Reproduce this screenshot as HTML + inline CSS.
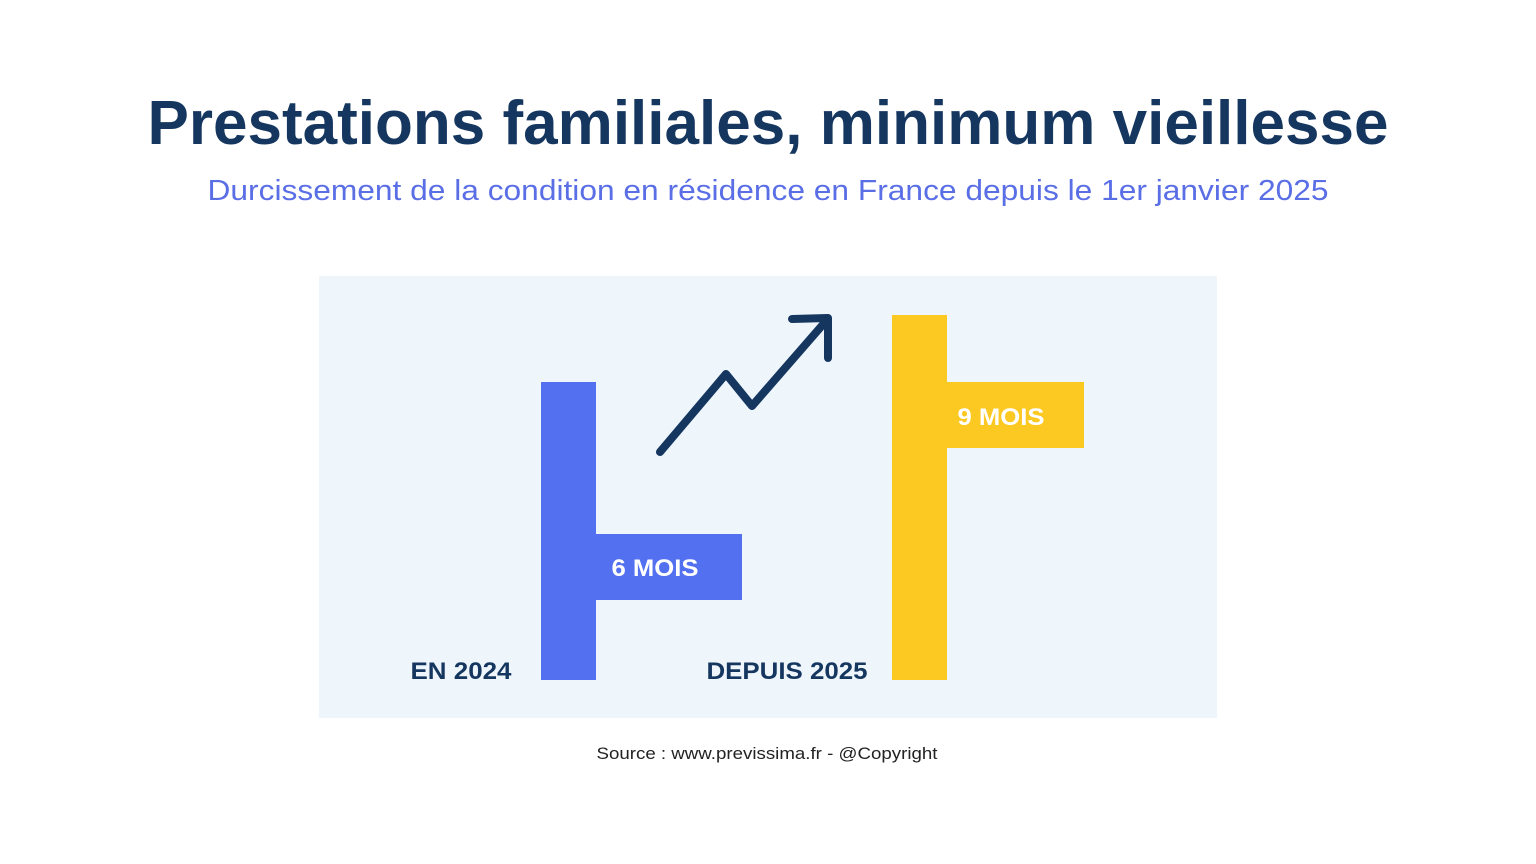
<!DOCTYPE html>
<html><head><meta charset="utf-8"><style>
html,body{margin:0;padding:0;background:#fff;}
svg{display:block;}
</style></head><body>
<svg width="1536" height="864" viewBox="0 0 1536 864" xmlns="http://www.w3.org/2000/svg">
<rect width="1536" height="864" fill="#ffffff"/>
<text x="768" y="144" text-anchor="middle" font-family="Liberation Sans, sans-serif" font-weight="bold" font-size="62" fill="#15365f" textLength="1241" lengthAdjust="spacingAndGlyphs">Prestations familiales, minimum vieillesse</text>
<text x="768" y="200" text-anchor="middle" font-family="Liberation Sans, sans-serif" font-size="29" fill="#5a6ee6" textLength="1121" lengthAdjust="spacingAndGlyphs">Durcissement de la condition en résidence en France depuis le 1er janvier 2025</text>
<rect x="319" y="276" width="898" height="442" fill="#eef6fc"/>
<rect x="541" y="382" width="55" height="298" fill="#5270f0"/>
<rect x="596" y="534" width="146" height="66" fill="#5270f0"/>
<rect x="892" y="315" width="55" height="365" fill="#fcc822"/>
<rect x="947" y="382" width="137" height="66" fill="#fcc822"/>
<text x="655" y="576" text-anchor="middle" font-family="Liberation Sans, sans-serif" font-weight="bold" font-size="24" fill="#ffffff" textLength="87" lengthAdjust="spacingAndGlyphs">6 MOIS</text>
<text x="1001" y="425" text-anchor="middle" font-family="Liberation Sans, sans-serif" font-weight="bold" font-size="24" fill="#ffffff" textLength="87" lengthAdjust="spacingAndGlyphs">9 MOIS</text>
<text x="461" y="679" text-anchor="middle" font-family="Liberation Sans, sans-serif" font-weight="bold" font-size="24" fill="#15365f" textLength="101" lengthAdjust="spacingAndGlyphs">EN 2024</text>
<text x="787" y="679" text-anchor="middle" font-family="Liberation Sans, sans-serif" font-weight="bold" font-size="24" fill="#15365f" textLength="161" lengthAdjust="spacingAndGlyphs">DEPUIS 2025</text>
<polyline points="660,452 726,374 752,406 826,321" fill="none" stroke="#15365f" stroke-width="8" stroke-linecap="round" stroke-linejoin="round"/>
<polyline points="792,319 828,318 828,358" fill="none" stroke="#15365f" stroke-width="8" stroke-linecap="round" stroke-linejoin="round"/>
<text x="767" y="759" text-anchor="middle" font-family="Liberation Sans, sans-serif" font-size="17" fill="#222222" textLength="341" lengthAdjust="spacingAndGlyphs">Source : www.previssima.fr - @Copyright</text>
</svg>
</body></html>
